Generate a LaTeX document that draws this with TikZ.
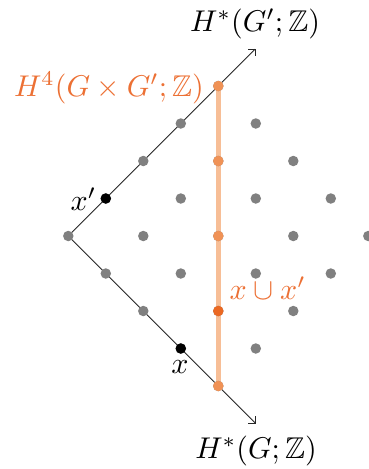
\documentclass[tikz,border=0pt]{standalone}
\usepackage{amssymb}
\usepackage{graphicx}
\usetikzlibrary{arrows.meta}
\definecolor{oratext}{RGB}{236,112,52}
\definecolor{oradot}{RGB}{240,146,86}
\definecolor{oradark}{RGB}{235,104,34}
\definecolor{oraline}{RGB}{247,190,150}
\definecolor{dotgray}{RGB}{128,128,128}
\newcommand{\lbl}[1]{\scalebox{3}{$#1$}}
\begin{document}
\begin{tikzpicture}[x=1pt,y=-1pt,
  dot/.style={circle,fill=dotgray,inner sep=0pt,minimum size=10.5pt},
  bdot/.style={dot,fill=black},
  odot/.style={dot,fill=oradot},
  oddot/.style={dot,fill=oradark},
  axis/.style={line width=0.8pt,black!85,-{Straight Barb[length=5pt,width=10pt]}},
  lab/.style={inner sep=0pt,font=\fontsize{10}{12}\selectfont},
  olab/.style={lab,text=oratext}]
\useasboundingbox (0,0) rectangle (368,469);
\foreach \a in {0,...,4}{
  \foreach \b in {0,...,4}{
    \coordinate (c\a\b) at ({68.3+(\a+\b)*37.5},{236+(\b-\a)*37.5});
  }
}
\coordinate (top) at (255.8,48.5);
\coordinate (bot) at (255.8,423.5);
\draw[axis] (c00) -- (top);
\draw[axis] (c00) -- (bot);
\draw[oraline,line width=4.8pt] (c40) -- (c04);
\foreach \a in {0,...,4}{
  \foreach \b in {0,...,4}{
    \node[dot] (p\a\b) at (c\a\b) {};
  }
}
\node[bdot] (xp) at (c10) {};
\node[bdot] (xx) at (c03) {};
\foreach \a/\b in {4/0,3/1,2/2,0/4}{\node[odot] (q\a\b) at (c\a\b) {};}
\node[oddot] (cup) at (c13) {};
\node[lab,anchor=base] (ltop) at (255,31.7) {\lbl{H^*(G';\mathbb{Z})}};
\node[lab,anchor=base] (lbot) at (256,458) {\lbl{H^*(G;\mathbb{Z})}};
\node[olab,anchor=base east] (lh4) at (204,96.7) {\lbl{H^4(G\times G';\mathbb{Z})}};
\node[olab,anchor=base west] (lcup) at (229.5,299) {\lbl{x\cup x'}};
\node[lab,anchor=base] (lxp) at (83.5,210) {\lbl{x'}};
\node[lab,anchor=base] (lx) at (180,373) {\lbl{x}};
\end{tikzpicture}
\end{document}
